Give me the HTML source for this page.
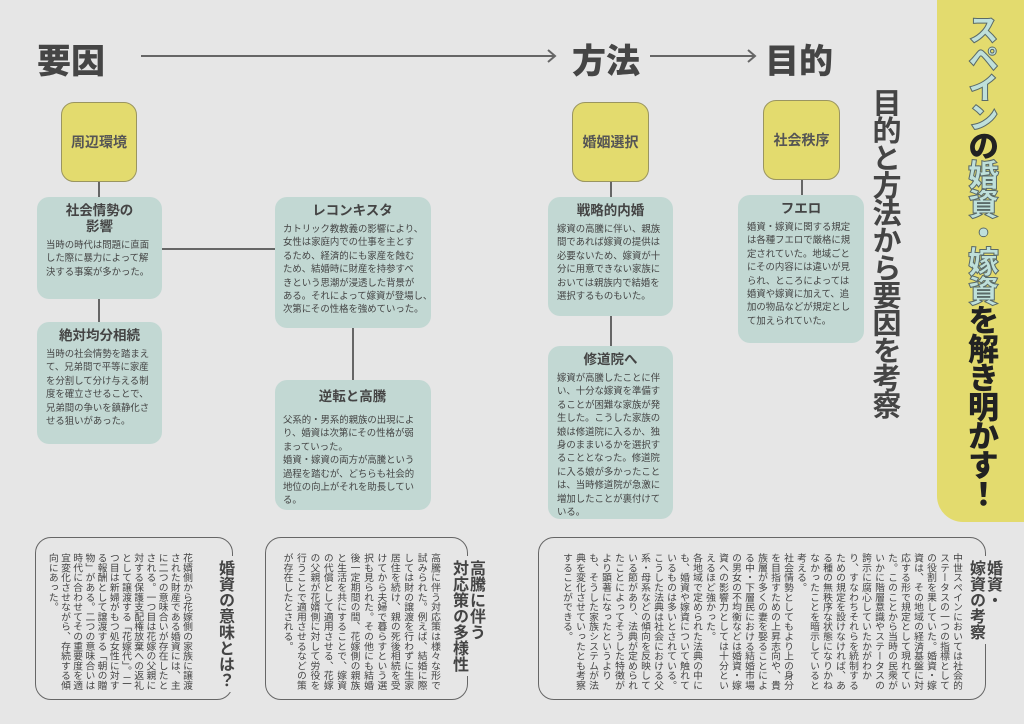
<!DOCTYPE html>
<html><head><meta charset="utf-8"><style>
*{margin:0;padding:0;box-sizing:border-box}
body{width:1024px;height:724px;background:#e6e6e6;position:relative;overflow:hidden;font-family:"Liberation Sans","Noto Sans CJK JP",sans-serif;color:#444}
.a{position:absolute}
.h{font-size:34px;font-weight:900;color:#454545}
.y{position:absolute;background:#e3db6e;border:1px solid #9a9560;border-radius:13px;display:flex;align-items:center;justify-content:center;font-weight:700;font-size:14px;color:#555}
.t{position:absolute;background:#c2d8d3;border-radius:12px;padding:6px 0 0 9px;font-size:9.4px;line-height:13.4px;color:#444;white-space:nowrap}
.t b{display:block;text-align:center;font-size:13.5px;line-height:16px;margin-bottom:3px;margin-left:-9px;color:#444}
.l{position:absolute;background:#666}
.box{position:absolute;border:1.5px solid #666;border-radius:16px}
.v{position:absolute;writing-mode:vertical-rl;font-size:9.8px;letter-spacing:0;color:#444;white-space:nowrap}
.vt{position:absolute;writing-mode:vertical-rl;font-weight:700;font-size:16px;line-height:17px;background:#e6e6e6;color:#444;white-space:nowrap;padding:4px 0}
</style></head><body>
<div class="a h" style="left:37px;top:34px">要因</div>
<div class="a h" style="left:572px;top:34px">方法</div>
<div class="a h" style="left:765px;top:34px">目的</div>
<svg class="a" style="left:0;top:0" width="1024" height="724">
<g stroke="#666" stroke-width="2" fill="none">
<line x1="141" y1="56" x2="555" y2="56"/><polyline points="548,50 555,56 548,62"/>
<line x1="650" y1="56" x2="755" y2="56"/><polyline points="748,50 755,56 748,62"/>
</g></svg>
<div class="y" style="left:61px;top:102px;width:76px;height:80px">周辺環境</div>
<div class="y" style="left:572px;top:102px;width:77px;height:80px">婚姻選択</div>
<div class="y" style="left:763px;top:100px;width:77px;height:80px">社会秩序</div>
<div class="l" style="left:98px;top:182px;width:1.5px;height:16px"></div>
<div class="l" style="left:610px;top:182px;width:1.5px;height:16px"></div>
<div class="l" style="left:801px;top:180px;width:1.5px;height:16px"></div>
<div class="l" style="left:98px;top:299px;width:1.5px;height:24px"></div>
<div class="l" style="left:162px;top:248px;width:113px;height:1.5px"></div>
<div class="l" style="left:352px;top:328px;width:1.5px;height:52px"></div>
<div class="l" style="left:610px;top:316px;width:1.5px;height:31px"></div>

<div class="t" style="left:37px;top:197px;width:125px;height:102px"><b>社会情勢の<br>影響</b>当時の時代は問題に直面<br>した際に暴力によって解<br>決する事案が多かった。</div>
<div class="t" style="left:37px;top:322px;width:125px;height:122px"><b>絶対均分相続</b>当時の社会情勢を踏まえ<br>て、兄弟間で平等に家産<br>を分割して分け与える制<br>度を確立させることで、<br>兄弟間の争いを鎮静化さ<br>せる狙いがあった。</div>
<div class="t" style="left:275px;top:197px;width:156px;height:131px;padding-left:8px"><b>レコンキスタ</b>カトリック教教義の影響により、<br>女性は家庭内での仕事を主とす<br>るため、経済的にも家産を蝕む<br>ため、結婚時に財産を持参すべ<br>きという思潮が浸透した背景が<br>ある。それによって嫁資が登場し、<br>次第にその性格を強めていった。</div>
<div class="t" style="left:275px;top:380px;width:156px;height:130px;padding-top:9px;padding-left:8px"><b style="margin-bottom:8px">逆転と高騰</b>父系的・男系的親族の出現によ<br>り、婚資は次第にその性格が弱<br>まっていった。<br>婚資・嫁資の両方が高騰という<br>過程を踏むが、どちらも社会的<br>地位の向上がそれを助長してい<br>る。</div>
<div class="t" style="left:548px;top:197px;width:125px;height:119px"><b>戦略的内婚</b>嫁資の高騰に伴い、親族<br>間であれば嫁資の提供は<br>必要ないため、嫁資が十<br>分に用意できない家族に<br>おいては親族内で結婚を<br>選択するものもいた。</div>
<div class="t" style="left:548px;top:346px;width:125px;height:173px"><b>修道院へ</b>嫁資が高騰したことに伴<br>い、十分な嫁資を準備す<br>ることが困難な家族が発<br>生した。こうした家族の<br>娘は修道院に入るか、独<br>身のままいるかを選択す<br>ることとなった。修道院<br>に入る娘が多かったこと<br>は、当時修道院が急激に<br>増加したことが裏付けて<br>いる。</div>
<div class="t" style="left:738px;top:195px;width:126px;height:148px"><b>フエロ</b>婚資・嫁資に関する規定<br>は各種フエロで厳格に規<br>定されていた。地域ごと<br>にその内容には違いが見<br>られ、ところによっては<br>婚資や嫁資に加えて、追<br>加の物品などが規定とし<br>て加えられていた。</div>

<div class="a" style="left:868px;top:88px;writing-mode:vertical-rl;font-size:29px;font-weight:700;line-height:32px;letter-spacing:-1.5px;color:#454545">目的と方法から要因を考察</div>

<div class="a" style="left:937px;top:-20px;width:100px;height:542px;background:#e3db6e;border-radius:0 0 0 26px"></div>
<div class="a" style="left:962px;top:14px;writing-mode:vertical-rl;font-size:31px;font-weight:900;line-height:36px;letter-spacing:-2px;color:#222"><span style="color:#bfe0da;-webkit-text-stroke:1px #5a6a68">スペイン</span>の<span style="color:#bfe0da;-webkit-text-stroke:1px #5a6a68">婚資・嫁資</span>を解き明かす！</div>

<div class="box" style="left:35px;top:537px;width:198px;height:163px"></div>
<div class="vt" style="left:216px;top:556px">婚資の意味とは？</div>
<div class="v" style="right:832px;top:553px;line-height:12.2px">花婿側から花嫁側の家族に譲渡<br>された財産である婚資には、主<br>に二つの意味合いが存在したと<br>される。一つ目は花嫁の父親に<br>対する保護支配権放棄への返礼<br>として譲渡する「花嫁代」。二<br>つ目は新婦がもつ処女性に対す<br>る報酬として譲渡する「朝の贈<br>物」がある。二つの意味合いは<br>時代に合わせてその重要度を適<br>宜変化させながら、存続する傾<br>向にあった。</div>

<div class="box" style="left:265px;top:537px;width:203px;height:163px"></div>
<div class="vt" style="left:450px;top:556px;width:34px">高騰に伴う<br>対応策の多様性</div>
<div class="v" style="right:583px;top:553px;line-height:13.4px">高騰に伴う対応策は様々な形で<br>試みられた。例えば、結婚に際<br>しては財の譲渡を行わずに生家<br>居住を続け、親の死後相続を受<br>けてから夫婦で暮らすという選<br>択も見られた。その他にも結婚<br>後一定期間の間、花嫁側の親族<br>と生活を共にすることで、嫁資<br>の代償として適用させる、花嫁<br>の父親が花婿側に対して労役を<br>行うことで適用させるなどの策<br>が存在したとされる。</div>

<div class="box" style="left:538px;top:537px;width:448px;height:163px"></div>
<div class="vt" style="left:967px;top:556px;width:34px">婚資・<br>嫁資の考察</div>
<div class="v" style="right:61px;top:553px;line-height:13px">中世スペインにおいては社会的<br>ステータスの一つの指標として<br>の役割を果していた。婚資・嫁<br>資は、その地域の経済基盤に対<br>応する形で規定として現れてい<br>た。このことから当時の民衆が<br>いかに階層意識やステータスの<br>誇示に腐心していたかがわか<br>り、すなわちそれらを統制する<br>ための規定を設けなければ、あ<br>る種の無秩序な状態になりかね<br>なかったことを暗示していると<br>考える。<br>社会情勢としてもより上の身分<br>を目指すための上昇志向や、貴<br>族層が多くの妻を娶ることによ<br>る中・下層民における結婚市場<br>の男女の不均衡などは婚資・嫁<br>資への影響力としては十分とい<br>えるほど強かった。<br>各地域で定められた法典の中に<br>も、婚資や嫁資について触れて<br>いるものは多いとされている。<br>こうした法典は社会における父<br>系・母系などの傾向を反映して<br>いる節があり、法典が定められ<br>たことによってそうした特徴が<br>より顕著になったというより<br>も、そうした家族システムが法<br>典を変化させていったとも考察<br>することができる。</div>
</body></html>
